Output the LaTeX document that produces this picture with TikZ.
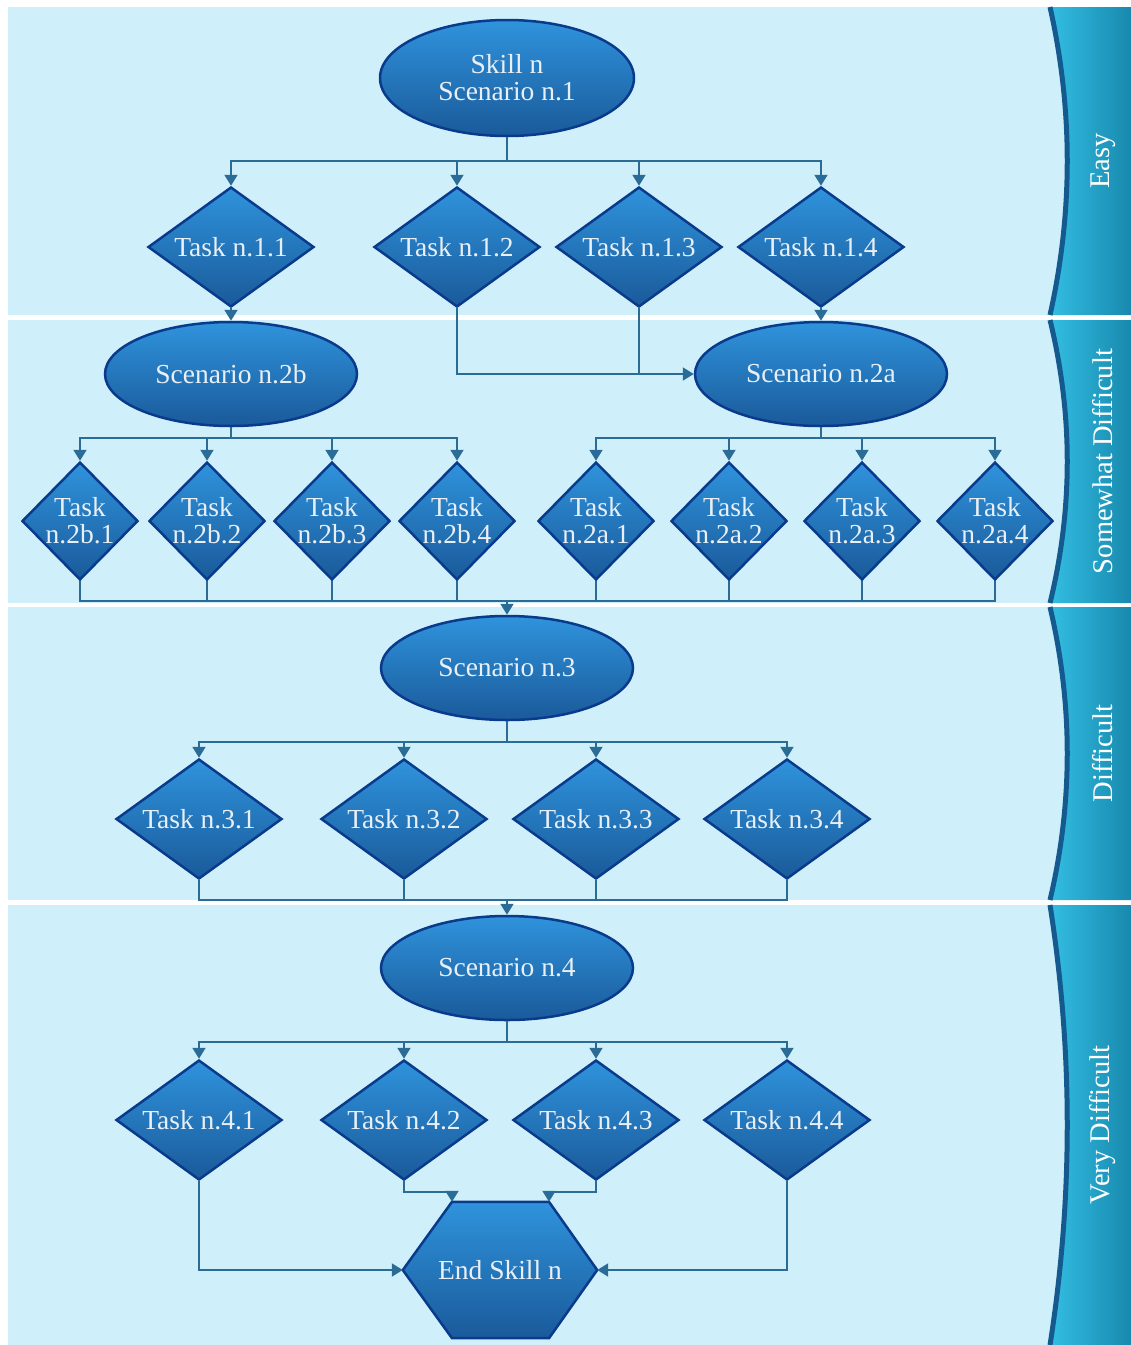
\documentclass[tikz,border=0pt]{standalone}
\usepackage{fontspec}
\setmainfont{Liberation Serif}
\usetikzlibrary{shapes.geometric,arrows.meta,calc}
\definecolor{lanefill}{HTML}{CFF0FA}
\definecolor{bandL}{HTML}{33BDE2}
\definecolor{bandR}{HTML}{1889AE}
\definecolor{bandedge}{HTML}{155A8E}
\definecolor{nodetop}{HTML}{2F93DC}
\definecolor{nodebot}{HTML}{1A5A9A}
\definecolor{nodeborder}{HTML}{0A3A8C}
\definecolor{linec}{HTML}{2A6C96}
\definecolor{nodetext}{HTML}{E8EFF6}
\begin{document}
\begin{tikzpicture}[x=1pt,y=-1pt,
  nodebase/.style={draw=nodeborder, line width=2.5pt, top color=nodetop, bottom color=nodebot,
    text=nodetext, font=\fontsize{27.5}{27}\selectfont, inner sep=0pt, align=center},
  ellbox/.style={nodebase, ellipse, minimum width=252pt, minimum height=104pt},
  diabox/.style={nodebase, diamond, aspect=1.38, minimum width=166pt, minimum height=120pt},
  sdiabox/.style={nodebase, diamond, aspect=1, minimum width=116pt, minimum height=118pt},
  plainline/.style={draw=linec, line width=2pt},
  conn/.style={plainline, -{Triangle[width=13pt,length=11pt]}},
  lanelabel/.style={rotate=90, text=white, font=\fontsize{28.5}{30}\selectfont},
  bandline/.style={draw=bandedge, line width=5pt}
]
\useasboundingbox (0,0) rectangle (1131,1345);
\fill[white] (0,0) rectangle (1131,1345);

% swim lanes with curved right band
\foreach \t/\b/\lab [count=\i] in {7/315/Easy, 320/603/Somewhat Difficult, 607/900/Difficult, 905/1345/Very Difficult}{
  \pgfmathsetmacro\ya{\t+(\b-\t)/3}
  \pgfmathsetmacro\yb{\t+2*(\b-\t)/3}
  \pgfmathsetmacro\ym{(\t+\b)/2}
  \fill[lanefill] (8,\t) rectangle (1131,\b);
  \shade[left color=bandL,right color=bandR] (1050,\t) .. controls (1073,\ya) and (1073,\yb) .. (1050,\b) -- (1131,\b) -- (1131,\t) -- cycle;
  \draw[bandline] (1050,\t) .. controls (1073,\ya) and (1073,\yb) .. (1050,\b);
  \node[lanelabel] (lane\i) at (1103,\ym) {\lab};
}

% nodes
\node[ellbox, minimum width=254pt, minimum height=116pt] (s1) at (507,78) {Skill n\\Scenario n.1};
\node[diabox] (t11) at (231,247) {Task n.1.1};
\node[diabox] (t12) at (457,247) {Task n.1.2};
\node[diabox] (t13) at (639,247) {Task n.1.3};
\node[diabox] (t14) at (821,247) {Task n.1.4};

\node[ellbox] (s2b) at (231,374) {Scenario n.2b};
\node[ellbox] (s2a) at (821,374) {Scenario n.2a};

\node[sdiabox] (t2b1) at (80,521) {Task\\n.2b.1};
\node[sdiabox] (t2b2) at (207,521) {Task\\n.2b.2};
\node[sdiabox] (t2b3) at (332,521) {Task\\n.2b.3};
\node[sdiabox] (t2b4) at (457,521) {Task\\n.2b.4};
\node[sdiabox] (t2a1) at (596,521) {Task\\n.2a.1};
\node[sdiabox] (t2a2) at (729,521) {Task\\n.2a.2};
\node[sdiabox] (t2a3) at (862,521) {Task\\n.2a.3};
\node[sdiabox] (t2a4) at (995,521) {Task\\n.2a.4};

\node[ellbox] (s3) at (507,668) {Scenario n.3};
\node[diabox] (t31) at (199,819) {Task n.3.1};
\node[diabox] (t32) at (404,819) {Task n.3.2};
\node[diabox] (t33) at (596,819) {Task n.3.3};
\node[diabox] (t34) at (787,819) {Task n.3.4};

\node[ellbox] (s4) at (507,968) {Scenario n.4};
\node[diabox] (t41) at (199,1120) {Task n.4.1};
\node[diabox] (t42) at (404,1120) {Task n.4.2};
\node[diabox] (t43) at (596,1120) {Task n.4.3};
\node[diabox] (t44) at (787,1120) {Task n.4.4};

% hexagon end node
\node[minimum width=194pt, minimum height=136pt, inner sep=0pt] (end) at (500,1270) {};
\coordinate (hTL) at ($(end.north)+(-48,0)$);
\coordinate (hTR) at ($(end.north)+(49,0)$);
\coordinate (hBL) at ($(end.south)+(-48,0)$);
\coordinate (hBR) at ($(end.south)+(49,0)$);
\shade[top color=nodetop, bottom color=nodebot] (end.west) -- (hTL) -- (hTR) -- (end.east) -- (hBR) -- (hBL) -- cycle;
\draw[draw=nodeborder, line width=2.5pt, line join=miter] (end.west) -- (hTL) -- (hTR) -- (end.east) -- (hBR) -- (hBL) -- cycle;
\node[text=nodetext, font=\fontsize{27.5}{27}\selectfont] (endlabel) at (end.center) {End Skill n};

% connectors: level 1
\draw[plainline] (s1.south) -- ++(0,24) coordinate (j1);
\foreach \n in {t11,t12,t13,t14}{ \draw[conn] (j1) -| (\n.north); }
\draw[conn] (t11.south) -- (s2b.north);
\draw[conn] (t14.south) -- (s2a.north);
\draw[conn] (t12.south) |- (s2a.west);
\draw[plainline] (t13.south) -- (t13.south |- s2a.west);

% level 2
\draw[plainline] (s2b.south) -- ++(0,11) coordinate (j2b);
\foreach \n in {t2b1,t2b2,t2b3,t2b4}{ \draw[conn] (j2b) -| (\n.north); }
\draw[plainline] (s2a.south) -- ++(0,11) coordinate (j2a);
\foreach \n in {t2a1,t2a2,t2a3,t2a4}{ \draw[conn] (j2a) -| (\n.north); }
\coordinate (m2) at (s3.north |- 0,601);
\foreach \n in {t2b1,t2b2,t2b3,t2b4,t2a1,t2a2,t2a3,t2a4}{ \draw[plainline] (\n.south) |- (m2); }
\draw[conn] (m2) -- (s3.north);

% level 3
\draw[plainline] (s3.south) -- ++(0,21) coordinate (j3);
\foreach \n in {t31,t32,t33,t34}{ \draw[conn] (j3) -| (\n.north); }
\coordinate (m3) at (s4.north |- 0,900);
\foreach \n in {t31,t32,t33,t34}{ \draw[plainline] (\n.south) |- (m3); }
\draw[conn] (m3) -- (s4.north);

% level 4
\draw[plainline] (s4.south) -- ++(0,21) coordinate (j4);
\foreach \n in {t41,t42,t43,t44}{ \draw[conn] (j4) -| (\n.north); }
\draw[conn] (t41.south) |- (end.west);
\draw[conn] (t44.south) |- (end.east);
\draw[conn] (t42.south) -- ++(0,11) -| (hTL);
\draw[conn] (t43.south) -- ++(0,11) -| (hTR);
\end{tikzpicture}
\end{document}
